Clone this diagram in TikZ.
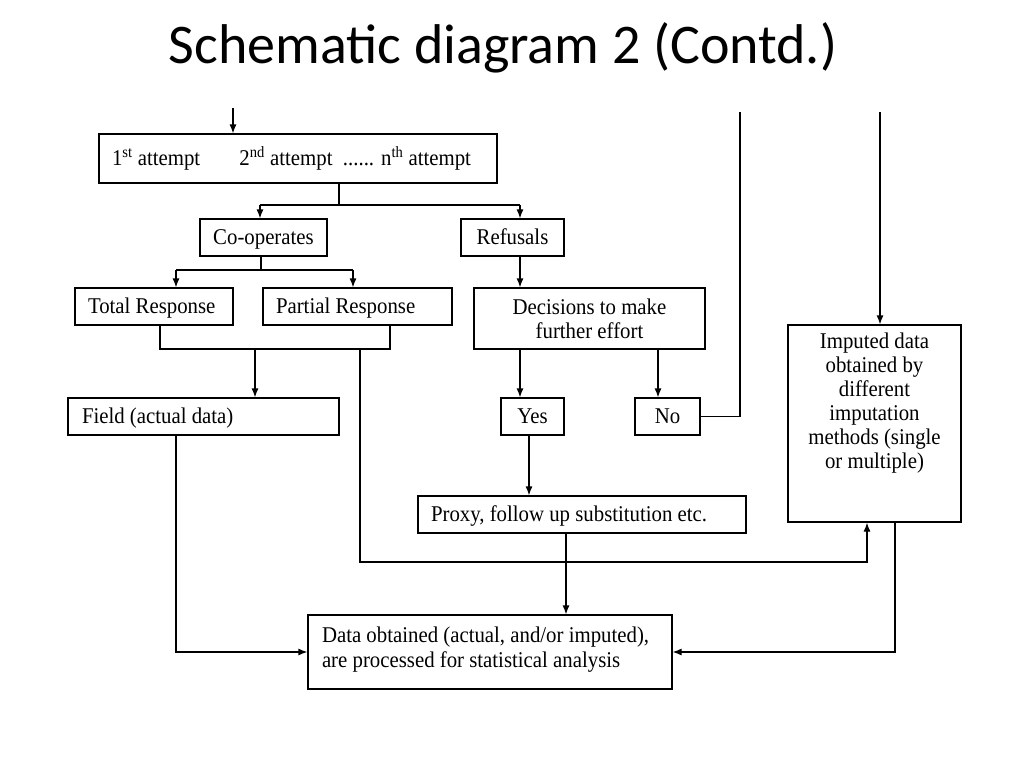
\documentclass[tikz,border=0pt]{standalone}
\usepackage{fontspec}
\setmainfont{Liberation Serif}[FakeStretch=0.925]
\newfontfamily\titlefont{Carlito}
\usetikzlibrary{arrows.meta}
\tikzset{
  box/.style={draw, line width=1.2pt, inner sep=0pt, font=\fontsize{22.5}{24}\selectfont},
  one/.style={text height=17pt, text depth=4pt},
  lbox/.style={box, align=flush left, inner xsep=13pt},
  cbox/.style={box, align=center},
  arr/.style={-{Latex[length=9pt,width=7pt]}},
}
\begin{document}
\begin{tikzpicture}[x=1pt, y=-1pt, line width=1.2pt]
\path[fill=white] (0,0) rectangle (1024,768);
\node[font=\titlefont\fontsize{56}{60}\selectfont] (title) at (503,48){Schematic diagram 2 (Contd.)};
\node[lbox, one, text width=372pt, minimum height=49pt] (att) at (298,158.5){1\textsuperscript{st} attempt\hspace{34pt} 2\textsuperscript{nd} attempt\ \ ...... n\textsuperscript{th} attempt};
\node[cbox, one, minimum width=127pt, minimum height=37pt] (coop) at (263.5,237.5){Co-operates};
\node[cbox, one, minimum width=103pt, minimum height=37pt] (ref) at (512.5,237.5){Refusals};
\node[lbox, one, text width=132pt, minimum height=37pt] (tot) at (154,306.5){Total Response};
\node[lbox, one, text width=163pt, minimum height=37pt] (par) at (357.5,306.5){Partial Response};
\node[cbox, text height=42pt, text depth=3pt, minimum width=231pt, minimum height=61pt] (dec) at (589.5,318.5){Decisions to make\\further effort};
\node[lbox, one, text width=243pt, minimum height=37pt, inner xsep=14pt] (field) at (203.5,416.5){Field (actual data)};
\node[cbox, one, minimum width=63pt, minimum height=37pt] (yes) at (532.5,416.5){Yes};
\node[cbox, one, minimum width=65pt, minimum height=37pt] (no) at (667.5,416.5){No};
\node[lbox, one, text width=302pt, minimum height=37pt] (prx) at (582,514.5){Proxy, follow up substitution etc.};
\node[lbox, text height=17pt, text depth=37pt, text width=336pt, minimum height=74pt, inner xsep=14pt] (dat) at (490,652){Data obtained (actual, and/or imputed),\\[1pt]are processed for statistical analysis};
\node[box, inner sep=8pt] (imp) at (874.5,423.5){\parbox[t][181pt][t]{157pt}{\centering\fontsize{22.5}{24}\selectfont Imputed data\\obtained by\\different\\imputation\\methods (single\\or multiple)}};
\coordinate (in1) at (233,108);
\coordinate (in2) at (740,112);
\coordinate (in3) at (880,112);
\coordinate (j1) at (339,205);
\coordinate (j1a) at (260,205);
\coordinate (j1b) at (520,205);
\coordinate (j2) at (261,270);
\coordinate (j2a) at (176,270);
\coordinate (j2b) at (353,270);
\coordinate (j3a) at (160,349);
\coordinate (j3b) at (390,349);
\coordinate (j3c) at (255,349);
\coordinate (j3d) at (360,349);
\coordinate (j4) at (360,562);
\coordinate (j4b) at (867,562);
\coordinate (j5) at (176,648);
\coordinate (j6) at (895,648);
\coordinate (j7) at (658,0);
\coordinate (j8) at (566,0);
\coordinate (j9) at (529,0);
\draw[arr] (in1) -- (in1 |- att.north);
\draw (att.south -| j1) -- (j1);
\draw (j1a) -- (j1b);
\draw[arr] (j1a) -- (j1a |- coop.north);
\draw[arr] (j1b) -- (j1b |- ref.north);
\draw (coop.south -| j2) -- (j2);
\draw (j2a) -- (j2b);
\draw[arr] (j2a) -- (j2a |- tot.north);
\draw[arr] (j2b) -- (j2b |- par.north);
\draw (j3a |- tot.south) -- (j3a) -- (j3b) -- (j3b |- par.south);
\draw[arr] (j3c) -- (j3c |- field.north);
\draw[arr] (j3d) -- (j4) -- (j4b) -- (j4b |- imp.south);
\draw[arr] (j1b |- ref.south) -- (j1b |- dec.north);
\draw[arr] (j1b |- dec.south) -- (j1b |- yes.north);
\draw[arr] (j7 |- dec.south) -- (j7 |- no.north);
\draw (no.east) -| (in2);
\draw[arr] (in3) -- (in3 |- imp.north);
\draw[arr] (j9 |- yes.south) -- (j9 |- prx.north);
\draw[arr] (j8 |- prx.south) -- (j8 |- dat.north);
\draw[arr] (j5 |- field.south) |- (dat.west);
\draw[arr] (j6 |- imp.south) |- (dat.east);
\end{tikzpicture}
\end{document}
